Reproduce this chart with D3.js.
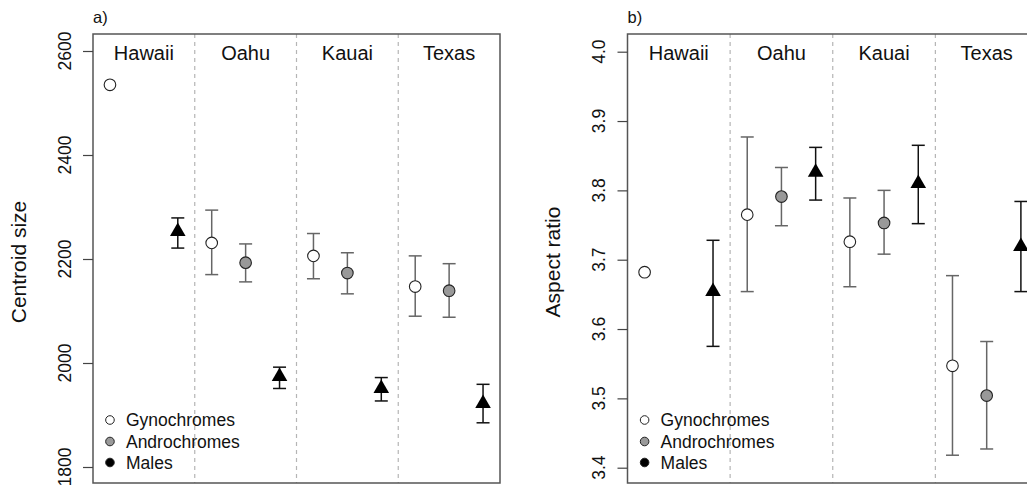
<!DOCTYPE html>
<html><head><meta charset="utf-8">
<script src="https://cdn.jsdelivr.net/npm/d3@7"></script>
<style>
html,body{margin:0;padding:0;background:#fff;}
svg{display:block;font-family:"Liberation Sans",Arial,Helvetica,sans-serif;}
</style></head>
<body>
<svg id="chart" width="1027" height="485"></svg>
<script>
// ---- data ----
const groups = ["Hawaii", "Oahu", "Kauai", "Texas"];
const morphs = ["Gynochromes", "Androchromes", "Males"];
// order: for each group, Gynochromes, Androchromes, Males
const sizeMean = [2535, null, 2253,  2231, 2193, 1974,  2206, 2173, 1951,  2147, 2139, 1922];
const sizeLo   = [null, null, 2221,  2170, 2156, 1951,  2162, 2133, 1927,  2090, 2088, 1885];
const sizeHi   = [null, null, 2279,  2294, 2229, 1992,  2249, 2212, 1972,  2206, 2191, 1959];
const aspMean  = [3.682, null, 3.654,  3.765, 3.791, 3.826,  3.726, 3.753, 3.810,  3.547, 3.504, 3.719];
const aspLo    = [null,  null, 3.575,  3.654, 3.749, 3.786,  3.661, 3.708, 3.752,  3.418, 3.427, 3.654];
const aspHi    = [null,  null, 3.728,  3.877, 3.833, 3.862,  3.789, 3.800, 3.865,  3.677, 3.582, 3.784];
const sizeTicks = [1800, 2000, 2200, 2400, 2600];
const aspTicks  = [3.4, 3.5, 3.6, 3.7, 3.8, 3.9, 4.0];

const svg = d3.select("#chart");
const fills = ["#ffffff", "#999999", "#000000"];
const barColors = ["#666666", "#666666", "#111111"];
const txt = "#111";

function panel(cfg) {
  const g = svg.append("g");
  const x = d3.scaleLinear().domain([0.5, 12.5]).range([cfg.x0, cfg.x1]);
  const y = d3.scaleLinear().domain(cfg.ydom).range(cfg.yrange);
  const top = 34, bottom = 483;

  // separators
  [3.5, 6.5, 9.5].forEach(v => {
    g.append("line").attr("x1", x(v)).attr("x2", x(v)).attr("y1", top).attr("y2", bottom)
      .attr("stroke", "#b5b5b5").attr("stroke-width", 1.2).attr("stroke-dasharray", "4,4");
  });

  // box
  g.append("rect").attr("x", cfg.x0).attr("y", top).attr("width", cfg.x1 - cfg.x0).attr("height", bottom - top)
    .attr("fill", "none").attr("stroke", "#555").attr("stroke-width", 1.5);

  // y axis
  const axis = d3.axisLeft(y).tickValues(cfg.ticks).tickSize(10).tickFormat(cfg.fmt);
  const ag = g.append("g").attr("transform", `translate(${cfg.x0},0)`).call(axis);
  ag.select(".domain").remove();
  ag.selectAll(".tick line").attr("stroke", "#444").attr("stroke-width", 1.2);
  ag.selectAll(".tick text").remove();
  cfg.ticks.forEach(t => {
    g.append("text").attr("transform", `translate(${cfg.tickLabelX},${y(t)}) rotate(-90)`)
      .attr("text-anchor", "middle").attr("font-size", 17.5).attr("fill", txt).text(cfg.fmt(t));
  });

  // y title
  g.append("text").attr("transform", `translate(${cfg.titleX},262) rotate(-90)`)
    .attr("text-anchor", "middle").attr("font-size", 21).attr("fill", txt).text(cfg.title);

  // panel label
  g.append("text").attr("x", cfg.x0).attr("y", 23).attr("font-size", 16.5).attr("fill", txt).text(cfg.label);

  // group labels
  groups.forEach((name, i) => {
    g.append("text").attr("x", x(i * 3 + 2)).attr("y", 60).attr("text-anchor", "middle")
      .attr("font-size", 20).attr("fill", txt).text(name);
  });

  // data points
  const pts = cfg.mean.map((m, i) => ({ i, m, lo: cfg.lo[i], hi: cfg.hi[i], k: i % 3 })).filter(d => d.m !== null);

  // error bars
  const eb = pts.filter(d => d.lo !== null);
  const cap = 6.5;
  eb.forEach(d => {
    const cx = x(d.i + 1), col = barColors[d.k];
    g.append("line").attr("x1", cx).attr("x2", cx).attr("y1", y(d.lo)).attr("y2", y(d.hi))
      .attr("stroke", col).attr("stroke-width", 1.5);
    [d.lo, d.hi].forEach(v => {
      g.append("line").attr("x1", cx - cap).attr("x2", cx + cap).attr("y1", y(v)).attr("y2", y(v))
        .attr("stroke", col).attr("stroke-width", 1.5);
    });
  });

  // markers
  pts.forEach(d => {
    const cx = x(d.i + 1), cy = y(d.m);
    if (d.k < 2) {
      g.append("circle").attr("cx", cx).attr("cy", cy).attr("r", 5.8)
        .attr("fill", fills[d.k]).attr("stroke", "#222").attr("stroke-width", 1.1);
    } else {
      const xc = 7.8, r = 1.1547 * xc, yc = 0.5774 * xc;
      g.append("path").attr("d", `M${cx},${cy - r}L${cx + xc},${cy + yc}L${cx - xc},${cy + yc}Z`)
        .attr("fill", "#000");
    }
  });

  // legend
  const ly = [420, 441.5, 462.5];
  morphs.forEach((name, k) => {
    g.append("circle").attr("cx", x(1)).attr("cy", ly[k]).attr("r", 4.3)
      .attr("fill", fills[k]).attr("stroke", "#222").attr("stroke-width", 1);
    g.append("text").attr("x", x(1) + 16).attr("y", ly[k] + 6).attr("font-size", 17.5)
      .attr("fill", txt).text(name);
  });
}

panel({
  x0: 93, x1: 500, ydom: [1800, 2600], yrange: [467, 51], ticks: sizeTicks,
  fmt: d3.format("d"), tickLabelX: 71, titleX: 25.5, title: "Centroid size", label: "a)",
  mean: sizeMean, lo: sizeLo, hi: sizeHi
});
panel({
  x0: 627.5, x1: 1038, ydom: [3.4, 4.0], yrange: [467.7, 51.7], ticks: aspTicks,
  fmt: d3.format(".1f"), tickLabelX: 605, titleX: 560, title: "Aspect ratio", label: "b)",
  mean: aspMean, lo: aspLo, hi: aspHi
});
</script>
</body></html>
